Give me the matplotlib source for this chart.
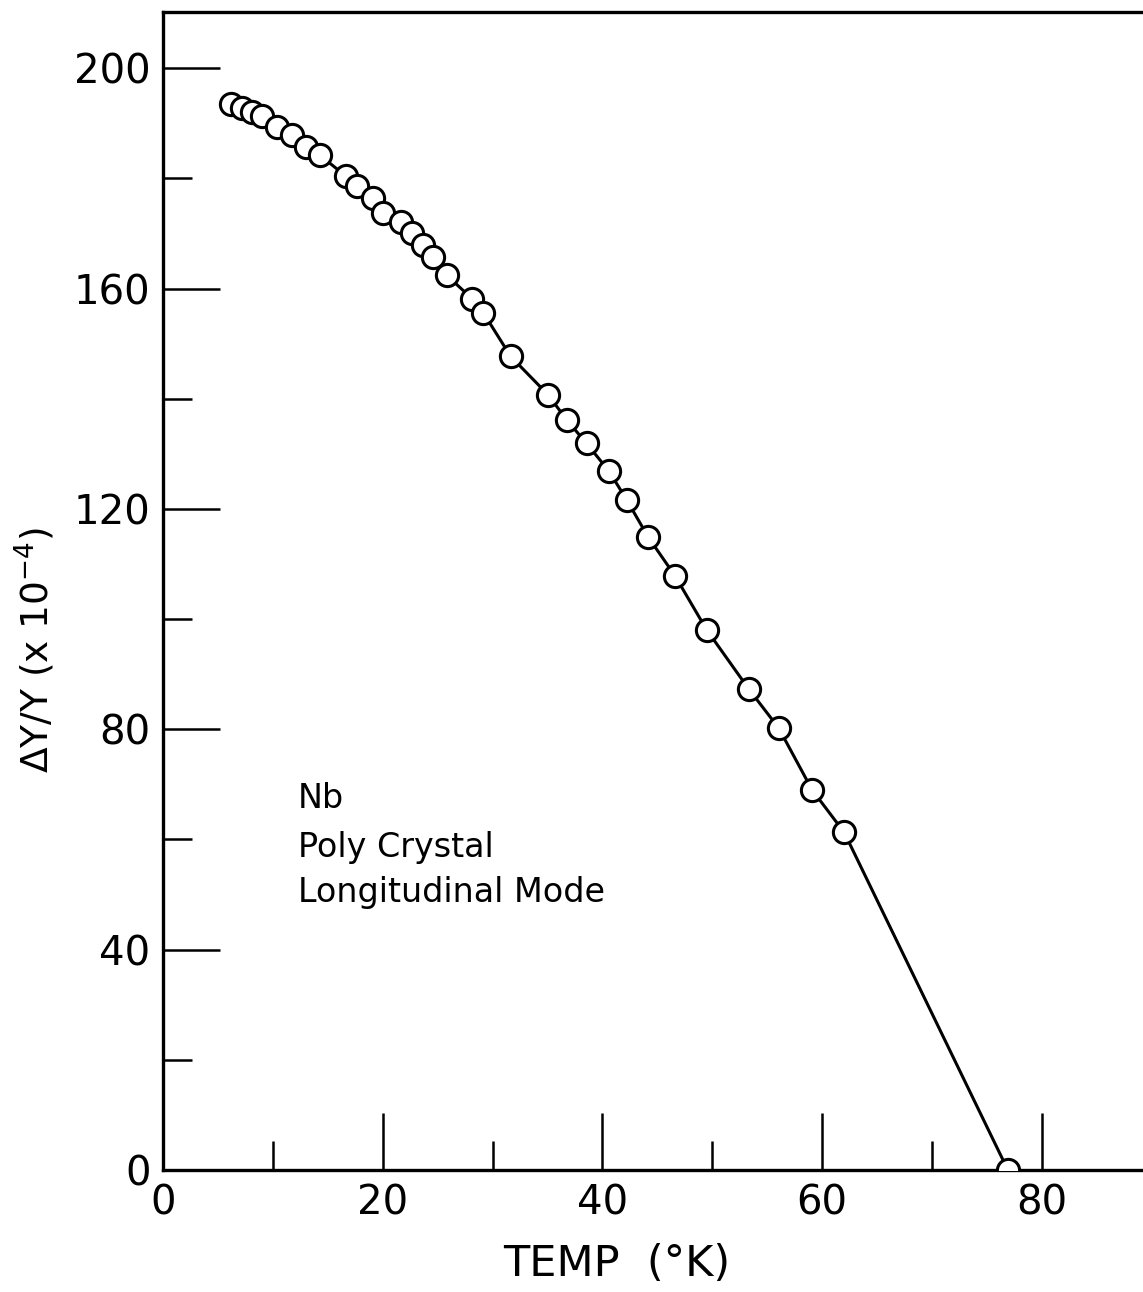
import numpy as np
import matplotlib
matplotlib.use('Agg')
import matplotlib.pyplot as plt
from matplotlib.ticker import MultipleLocator

# 数据
temp = [6.16, 7.19, 8.10, 9.01, 10.37, 11.74, 13.01, 14.29, 16.65, 17.63,
        19.14, 20.05, 21.63, 22.66, 23.66, 24.61, 25.84, 28.16, 29.16, 31.64,
        35.06, 36.73, 38.55, 40.58, 42.19, 44.16, 46.59, 49.47, 53.32, 56.05,
        59.08, 62.0, 76.9]
dy = [193.5, 192.7, 192.1, 191.4, 189.3, 187.8, 185.7, 184.2, 180.4, 178.7,
      176.4, 173.7, 172.1, 170.0, 167.9, 165.8, 162.4, 158.1, 155.6, 147.7,
      140.7, 136.2, 131.9, 126.9, 121.7, 114.9, 107.9, 98.1, 87.3, 80.2,
      69.0, 61.3, 0.0]
notes = ['Nb', 'Poly Crystal', 'Longitudinal Mode']
note_y = [65.7, 56.8, 48.6]

plt.rcParams['font.family'] = ['DejaVu Sans']

fig = plt.figure(figsize=(11.43, 12.92), dpi=100)
ax = fig.add_axes([0.1426, 0.0944, 0.8574, 0.8963])

ax.plot(temp, dy, '-', color='black', lw=2.2, zorder=2)
ax.plot(temp, dy, 'o', ms=16, mfc='white', mec='black', mew=2.2, zorder=3)

ax.set_xlim(0, 89.2)
ax.set_ylim(0, 210.2)

ax.xaxis.set_major_locator(MultipleLocator(20))
ax.xaxis.set_minor_locator(MultipleLocator(10))
ax.yaxis.set_major_locator(MultipleLocator(40))
ax.yaxis.set_minor_locator(MultipleLocator(20))
ax.tick_params(which='both', direction='in', top=False, right=False, width=1.8)
ax.tick_params(which='major', length=41, labelsize=29)
ax.tick_params(axis='y', which='major', pad=9)
ax.tick_params(axis='x', which='major', pad=10)
ax.tick_params(which='minor', length=21)

for side in ['left', 'bottom', 'top']:
    ax.spines[side].set_linewidth(2.4)
ax.spines['right'].set_visible(False)

ax.set_xlabel('TEMP  (°K)', fontsize=31)
ax.xaxis.set_label_coords(0.463, -0.063)
ax.set_ylabel('ΔY/Y (x 10$^{-4}$)', fontsize=27)
ax.yaxis.set_label_coords(-0.108, 0.449)

for t, yy in zip(notes, note_y):
    ax.text(12.3, yy, t, fontsize=24, ha='left', va='baseline')

fig.savefig('out.png', dpi=100)
